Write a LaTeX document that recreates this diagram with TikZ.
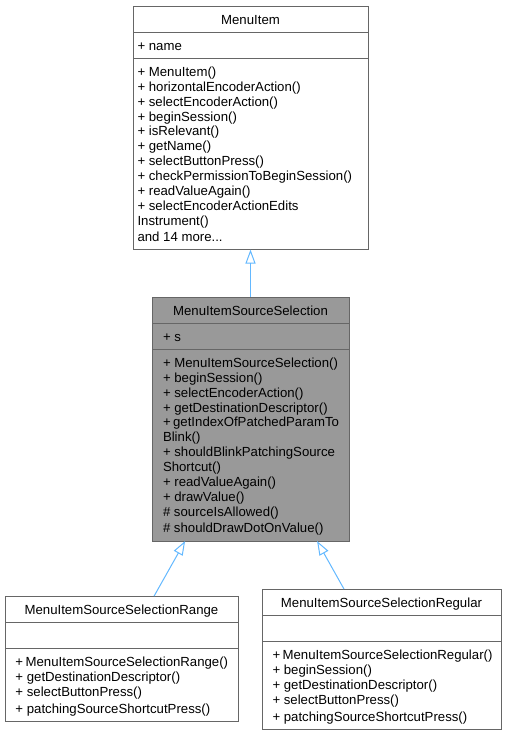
\documentclass[tikz,border=0pt]{standalone}
\usepackage{fontspec}
\setmainfont{Liberation Sans}
\usepackage{xcolor}
\usepackage{tikz}
\usetikzlibrary{calc,positioning,arrows.meta}

\definecolor{boxgray}{HTML}{666666}
\definecolor{curgray}{HTML}{999999}
\definecolor{inheritblue}{HTML}{63B8FF}
\newcommand{\rowstrut}{\rule[-2.2pt]{0pt}{15pt}}
\hyphenpenalty=10000

\begin{document}
\begin{tikzpicture}[
        x=1pt, y=-1pt,
        cls/.style={draw=boxgray, line width=1pt, outer sep=0, inner ysep=5.5pt,
            align=flush left, font=\fontsize{13.2}{14.9}\selectfont,
            execute at begin node=\rowstrut, execute at end node=\rowstrut},
        cls_title/.style={cls, align=center},
        cls_current/.style={fill=curgray},
        inherit/.style={draw=inheritblue, line width=1pt, -{Triangle[open, length=14pt, width=10pt]}},
        base/.style={inner xsep=4.5pt, text width=226pt},
        current/.style={inner xsep=11pt, text width=175pt, cls_current},
        range_w/.style={inner xsep=10.5pt, text width=212pt},
        regular_w/.style={inner xsep=10.5pt, text width=218pt},
    ]
        \useasboundingbox (0,0) rectangle (507,732);

        % base class
        \node [cls_title, base, anchor=north west] (menuitem) at (133,6) {MenuItem};
        \node [cls, base, below=0pt of menuitem] (menuitem_attr) {+ name};
        \node [cls, base, below=0pt of menuitem_attr] (menuitem_methods) {+ MenuItem()\\
            + horizontalEncoderAction()\\ + selectEncoderAction()\\ + beginSession()\\
            + isRelevant()\\ + getName()\\ + selectButtonPress()\\
            +~checkPermissionToBeginSession()\\ + readValueAgain()\\
            + selectEncoderActionEdits\\ Instrument()\\ and 14 more...};

        % current class
        \node [cls_title, current, anchor=north west] (srcsel) at (152,297) {MenuItemSourceSelection};
        \node [cls, current, below=0pt of srcsel] (srcsel_attr) {+ s};
        \node [cls, current, below=0pt of srcsel_attr] (srcsel_methods) {+~MenuItemSourceSelection()\\
            + beginSession()\\ + selectEncoderAction()\\ +~getDestinationDescriptor()\\
            +~getIndexOfPatchedParamTo\\ Blink()\\ +~shouldBlinkPatchingSource\\ Shortcut()\\
            + readValueAgain()\\ + drawValue()\\ \# sourceIsAllowed()\\ \#~shouldDrawDotOnValue()};

        % derived classes
        \node [cls_title, range_w, anchor=north west] (range) at (5,596) {MenuItemSourceSelectionRange};
        \node [cls, range_w, below=0pt of range] (range_attr) {};
        \node [cls, range_w, below=0pt of range_attr] (range_methods) {+~MenuItemSourceSelectionRange()\\
            + getDestinationDescriptor()\\ + selectButtonPress()\\ +~patchingSourceShortcutPress()};

        \node [cls_title, regular_w, anchor=north west] (regular) at (262,589) {MenuItemSourceSelectionRegular};
        \node [cls, regular_w, below=0pt of regular] (regular_attr) {};
        \node [cls, regular_w, below=0pt of regular_attr] (regular_methods) {+~MenuItemSourceSelectionRegular()\\
            + beginSession()\\ + getDestinationDescriptor()\\ + selectButtonPress()\\
            +~patchingSourceShortcutPress()};

        % inheritance
        \draw [inherit] (srcsel.north) -- (menuitem_methods.south);
        \draw [inherit] ($(range.north west)!0.64!(range.north east)$)
            -- ($(srcsel_methods.south west)!0.168!(srcsel_methods.south east)$);
        \draw [inherit] ($(regular.north west)!0.343!(regular.north east)$)
            -- ($(srcsel_methods.south west)!0.838!(srcsel_methods.south east)$);
    \end{tikzpicture}
\end{document}
